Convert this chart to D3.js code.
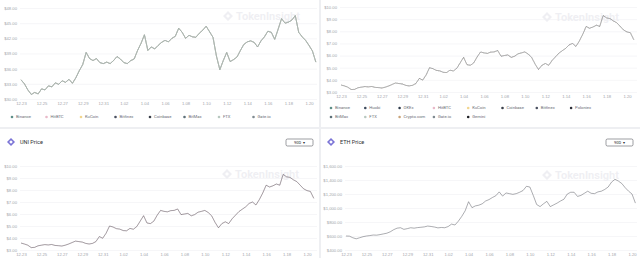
<!DOCTYPE html>
<html>
<head>
<meta charset="utf-8">
<script src="https://cdn.jsdelivr.net/npm/d3@7"></script>
<style>
  body { margin: 0; background: #eeeff2; }
  svg { display: block; font-family: Roboto, "Noto Sans", sans-serif; }
</style>
</head>
<body>
<div id="chart"></div>
<script>
// x tick labels (month.day), Dec 2020 -> Jan 2021
var tickLabels = ['12.23', '12.25', '12.27', '12.29', '12.31', '1.02', '1.04', '1.06',
  '1.08', '1.10', '1.12', '1.14', '1.16', '1.18', '1.20'];

// top left token, price by exchange (8h steps from 12.23)
var tokenPrices = [33.8, 33.0, 31.8, 30.9, 31.3, 31.0, 32.0, 31.8, 32.6, 32.4, 33.2, 32.9,
  33.6, 33.3, 33.9, 33.1, 34.2, 35.6, 36.8, 39.2, 38.0, 37.6, 38.0, 37.2, 37.0, 37.3, 37.0,
  37.6, 38.4, 37.9, 37.2, 37.0, 37.6, 37.9, 39.6, 41.0, 42.7, 39.6, 40.3, 39.9, 40.6, 41.2,
  41.6, 41.3, 42.0, 42.4, 44.0, 43.2, 42.0, 42.6, 42.3, 42.2, 43.0, 43.6, 44.4, 43.3, 42.2,
  38.5, 35.8, 37.6, 39.2, 37.4, 37.8, 38.3, 39.6, 40.8, 41.3, 41.5, 41.2, 40.3, 41.5, 42.3,
  43.4, 43.2, 41.8, 43.8, 45.9, 45.0, 45.2, 45.6, 46.5, 43.2, 42.3, 41.6, 40.6, 39.5, 37.3];

// UNI price (8h steps from 12.23)
var uniPrices = [3.58, 3.5, 3.4, 3.2, 3.22, 3.35, 3.4, 3.45, 3.42, 3.46, 3.38, 3.36, 3.33,
  3.4, 3.5, 3.62, 3.74, 3.7, 3.66, 3.55, 3.5, 3.55, 3.7, 4.12, 3.98, 4.4, 5.0, 4.92, 4.78,
  4.74, 4.62, 4.6, 4.8, 4.73, 4.95, 5.4, 5.86, 5.25, 5.2, 5.4, 5.9, 6.3, 6.22, 6.18, 6.28,
  6.3, 6.42, 5.95, 6.0, 6.05, 5.85, 5.95, 6.15, 6.22, 6.3, 6.12, 5.85, 5.3, 4.85, 5.2, 5.35,
  5.2, 5.6, 5.9, 6.2, 6.4, 6.6, 6.88, 7.0, 6.75, 7.2, 7.75, 8.4, 8.25, 8.35, 8.5, 8.4, 9.3,
  9.1, 9.05, 8.85, 8.7, 8.4, 8.1, 7.95, 7.88, 7.3];

// ETH price (8h steps from 12.23)
var ethPrices = [600, 598, 575, 560, 575, 590, 600, 606, 614, 612, 620, 630, 640, 660, 690,
  712, 718, 695, 705, 718, 712, 720, 725, 730, 742, 736, 728, 716, 722, 718, 735, 770, 757,
  812, 880, 960, 1090, 1005, 1030, 1040, 1060, 1100, 1120, 1150, 1175, 1230, 1170, 1215,
  1205, 1195, 1205, 1225, 1250, 1310, 1300, 1180, 1050, 1020, 1060, 1095, 1020, 1045, 1070,
  1100, 1125, 1200, 1225, 1225, 1165, 1180, 1210, 1240, 1210, 1205, 1230, 1240, 1265, 1300,
  1370, 1410, 1385, 1350, 1290, 1240, 1200, 1070];

var tokenExchanges = ['Binance', 'HitBTC', 'KuCoin', 'Bitfinex', 'Coinbase', 'BitMax', 'FTX', 'Gate.io'];
var uniExchanges = ['Binance', 'Huobi', 'OKEx', 'HitBTC', 'KuCoin', 'Coinbase', 'Bitfinex', 'Poloniex',
  'BitMax', 'FTX', 'Crypto.com', 'Gate.io', 'Gemini'];

var tokenTicks = [30, 33, 36, 39, 42, 45, 48];
var uniTicks = [3, 4, 5, 6, 7, 8, 9, 10];
var ethTicks = [400, 600, 800, 1000, 1200, 1400, 1600];

var exchangeColors = {
  'Binance': '#5e8f88', 'Huobi': '#3d4a5c', 'OKEx': '#2f3b4c', 'HitBTC': '#e9b9c9',
  'KuCoin': '#f2d68f', 'Coinbase': '#3a3f4a', 'Bitfinex': '#4a5060', 'Poloniex': '#2d2f38',
  'BitMax': '#5d7078', 'FTX': '#b8c8c0', 'Crypto.com': '#c9a47a', 'Gate.io': '#7f8a90',
  'Gemini': '#1e1f24'
};

var width = 640, height = 258;
var start = new Date(2020, 11, 23);
var tickDates = tickLabels.map(function (s) {
  var p = s.split('.');
  var m = +p[0], d = +p[1];
  return new Date(m === 12 ? 2020 : 2021, m - 1, d);
});
var times = function (vals) {
  return vals.map(function (v, i) { return d3.timeHour.offset(start, i * 8); });
};

var svg = d3.select('#chart').append('svg')
  .attr('width', width)
  .attr('height', height);

// cards
var cards = [
  { x: 0, y: 0, w: 319, h: 127 },
  { x: 321, y: 0, w: 319, h: 127 },
  { x: 0, y: 129, w: 319, h: 129 },
  { x: 321, y: 129, w: 319, h: 129 }
];
svg.selectAll('rect.card').data(cards).enter().append('rect')
  .attr('class', 'card')
  .attr('x', d => d.x).attr('y', d => d.y)
  .attr('width', d => d.w).attr('height', d => d.h)
  .attr('fill', '#fff');

function watermark(x, y) {
  var g = svg.append('g').attr('transform', 'translate(' + x + ',' + y + ')');
  g.append('path')
    .attr('d', 'M5,0 L10,5 L5,10 L0,5 Z M5,3 L7,5 L5,7 L3,5 Z')
    .attr('fill', '#efeff3').attr('fill-rule', 'evenodd');
  g.append('text')
    .attr('x', 13).attr('y', 9)
    .attr('font-size', '11px').attr('font-weight', 600)
    .attr('fill', '#efeff3')
    .text('TokenInsight');
}

function drawChart(cfg) {
  var x = d3.scaleTime()
    .domain([tickDates[0], tickDates[tickDates.length - 1]])
    .range([cfg.x0, cfg.x1]);
  var y = d3.scaleLinear()
    .domain([cfg.ticks[0], cfg.ticks[cfg.ticks.length - 1]])
    .range([cfg.yBottom, cfg.yTop]);

  // grid + y labels
  var yAxis = svg.append('g')
    .attr('transform', 'translate(' + cfg.gridL + ',0)')
    .call(d3.axisLeft(y)
      .tickValues(cfg.ticks)
      .tickSize(-(cfg.gridR - cfg.gridL))
      .tickPadding(3)
      .tickFormat(d3.format('$,.2f')));
  yAxis.select('.domain').remove();
  yAxis.selectAll('line').attr('stroke', '#f0f0f3').attr('stroke-width', 0.6);
  yAxis.selectAll('text').attr('font-size', '4.2px').attr('fill', '#a3a5ab');

  watermark(cfg.wmX, cfg.wmY);

  // x labels
  var xAxis = svg.append('g')
    .attr('transform', 'translate(0,' + (cfg.yBottom + 1) + ')')
    .call(d3.axisBottom(x)
      .tickValues(tickDates)
      .tickSize(0)
      .tickPadding(2)
      .tickFormat((d, i) => tickLabels[i]));
  xAxis.select('.domain').remove();
  xAxis.selectAll('text').attr('font-size', '4.2px').attr('fill', '#a3a5ab');

  // lines, one per exchange
  var line = d3.line()
    .x(d => x(d.t))
    .y(d => y(d.v));
  cfg.series.forEach(function (s) {
    var pts = s.values.map((v, i) => ({ t: s.times[i], v: v }));
    svg.append('path')
      .datum(pts)
      .attr('fill', 'none')
      .attr('stroke', s.color)
      .attr('stroke-width', cfg.lineWidth)
      .attr('stroke-opacity', s.opacity)
      .attr('stroke-linejoin', 'round')
      .attr('d', line);
  });

  // legend
  if (cfg.legend) {
    var items = svg.selectAll(null)
      .data(cfg.legend.names)
      .enter().append('g')
      .attr('transform', (d, i) => 'translate(' +
        (cfg.legend.x + (i % cfg.legend.perRow) * cfg.legend.dx) + ',' +
        (cfg.legend.y + Math.floor(i / cfg.legend.perRow) * 9) + ')');
    items.append('circle')
      .attr('r', 1.3)
      .attr('fill', d => exchangeColors[d]);
    items.append('text')
      .attr('x', 4).attr('dy', '0.35em')
      .attr('font-size', '4.2px').attr('fill', '#6b6e76')
      .text(d => d);
  }
}

function header(x, title, btnX) {
  var g = svg.append('g').attr('transform', 'translate(' + x + ',142)');
  g.append('path')
    .attr('d', 'M0,-4 L4,0 L0,4 L-4,0 Z M0,-1.8 L1.8,0 L0,1.8 L-1.8,0 Z')
    .attr('fill', '#7b74d6').attr('fill-rule', 'evenodd');
  g.append('text')
    .attr('x', 9).attr('dy', '0.35em')
    .attr('font-size', '5.5px').attr('fill', '#2b2d33')
    .text(title);
  var b = svg.append('g').attr('transform', 'translate(' + btnX + ',139)');
  b.append('rect')
    .attr('width', 27).attr('height', 7).attr('rx', 1.5)
    .attr('fill', '#fff').attr('stroke', '#3a3c44').attr('stroke-width', 0.5);
  b.append('text')
    .attr('x', 8).attr('y', 3.5).attr('dy', '0.35em')
    .attr('font-size', '4px').attr('fill', '#2b2d33')
    .text('90D');
  b.append('text')
    .attr('x', 17).attr('y', 3.5).attr('dy', '0.35em')
    .attr('font-size', '3.5px').attr('fill', '#2b2d33')
    .text('\u25BE');
}

var tokenColors = ['#7fa89c', '#e9b9c9', '#f2d68f', '#8a95a0', '#7d8590', '#8fa3a8', '#b8c8c0', '#9fb3a8'];

drawChart({
  x0: 21, x1: 309, yTop: 8, yBottom: 99, gridL: 20, gridR: 317,
  ticks: tokenTicks, lineWidth: 0.55, wmX: 223, wmY: 11,
  series: tokenExchanges.map((n, i) => ({
    values: tokenPrices, times: times(tokenPrices), color: tokenColors[i], opacity: 0.5
  })),
  legend: { names: tokenExchanges, x: 12, y: 117, dx: 34.5, perRow: 8 }
});

drawChart({
  x0: 341, x1: 627, yTop: 7, yBottom: 92, gridL: 340, gridR: 637,
  ticks: uniTicks, lineWidth: 0.55, wmX: 542, wmY: 12,
  series: uniExchanges.map(n => ({
    values: uniPrices, times: times(uniPrices), color: exchangeColors[n], opacity: 0.12
  })),
  legend: { names: uniExchanges, x: 331, y: 108, dx: 34.3, perRow: 8 }
});

header(11, 'UNI Price', 286);
drawChart({
  x0: 21, x1: 307, yTop: 166, yBottom: 250, gridL: 20, gridR: 317,
  ticks: uniTicks, lineWidth: 0.55, wmX: 222, wmY: 169,
  series: [
    { values: uniPrices, times: times(uniPrices), color: '#8a5a6a', opacity: 0.5 },
    { values: uniPrices, times: times(uniPrices), color: '#4a4c55', opacity: 0.7 }
  ]
});

header(331, 'ETH Price', 606);
drawChart({
  x0: 346, x1: 632, yTop: 166, yBottom: 250, gridL: 345, gridR: 637,
  ticks: ethTicks, lineWidth: 0.55, wmX: 542, wmY: 170,
  series: [
    { values: ethPrices, times: times(ethPrices), color: '#55575f', opacity: 0.9 }
  ]
});
</script>
</body>
</html>
